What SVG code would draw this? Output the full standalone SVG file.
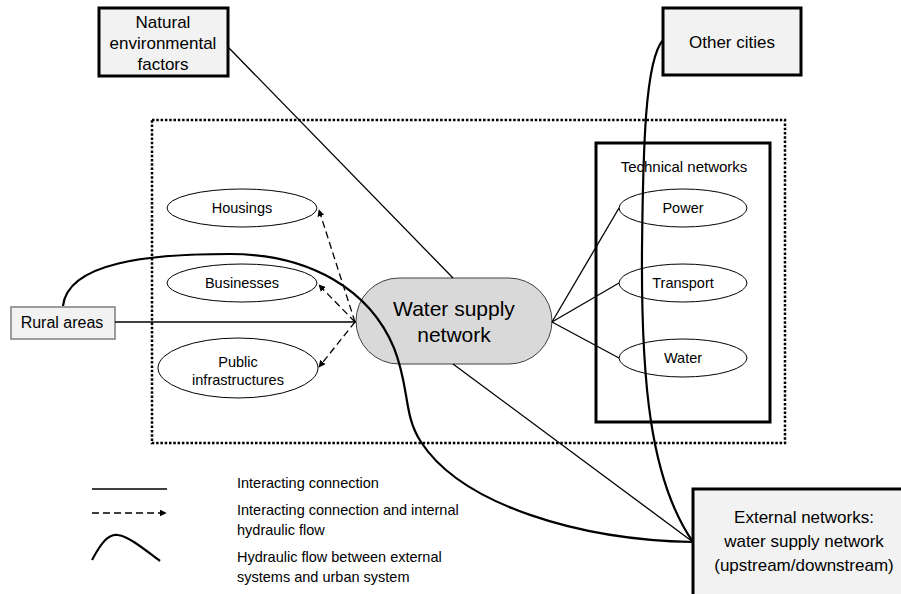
<svg xmlns="http://www.w3.org/2000/svg" width="901" height="594" viewBox="0 0 901 594">
<defs>
<style>
.t{font-family:"Liberation Sans",Arial,sans-serif;fill:#000}
.box{fill:#f2f2f2;stroke:#000;stroke-width:3}
.ell{fill:#fff;stroke:#000;stroke-width:1}
.ln{fill:none;stroke:#000;stroke-width:1.3}
.dash{fill:none;stroke:#000;stroke-width:1.3;stroke-dasharray:7 4}
.flow{fill:none;stroke:#000;stroke-width:2.2}
</style>
<marker id="ah" viewBox="0 0 10 10" refX="9" refY="5" markerWidth="7" markerHeight="7" orient="auto" markerUnits="userSpaceOnUse">
<path d="M0,0 L10,5 L0,10 z" fill="#000"/>
</marker>
</defs>
<rect width="901" height="594" fill="#fff"/>

<g id="urban-boundary">
<rect x="152" y="120" width="633" height="323" fill="none" stroke="#000" stroke-width="2.5" stroke-dasharray="2.5 1.8"/>
</g>

<g id="technical-networks">
<rect x="596" y="143" width="174" height="279" fill="none" stroke="#000" stroke-width="3"/>
<text class="t" x="684" y="172" font-size="15" text-anchor="middle">Technical networks</text>
</g>

<g id="power"><ellipse class="ell" cx="683" cy="208" rx="64" ry="19"/><text class="t" x="683" y="213" font-size="14.5" text-anchor="middle">Power</text></g>
<g id="transport"><ellipse class="ell" cx="683" cy="283" rx="64" ry="19"/><text class="t" x="683" y="288" font-size="14.5" text-anchor="middle">Transport</text></g>
<g id="water"><ellipse class="ell" cx="683" cy="358" rx="64" ry="19"/><text class="t" x="683" y="363" font-size="14.5" text-anchor="middle">Water</text></g>

<g id="housings"><ellipse class="ell" cx="242" cy="208" rx="75" ry="19"/><text class="t" x="242" y="213" font-size="14.5" text-anchor="middle">Housings</text></g>
<g id="businesses"><ellipse class="ell" cx="242" cy="283" rx="75" ry="19"/><text class="t" x="242" y="288" font-size="14.5" text-anchor="middle">Businesses</text></g>
<g id="public"><ellipse class="ell" cx="238" cy="368" rx="80" ry="30"/><text class="t" x="238" y="367" font-size="14.5" text-anchor="middle">Public</text><text class="t" x="238" y="385" font-size="14.5" text-anchor="middle">infrastructures</text></g>

<g id="water-supply-network">
<rect x="356" y="278" width="196" height="86" rx="43" ry="43" fill="#d9d9d9" stroke="#404040" stroke-width="1"/>
<text class="t" x="454" y="316" font-size="21" text-anchor="middle">Water supply</text>
<text class="t" x="454" y="342" font-size="21" text-anchor="middle">network</text>
</g>

<g id="natural-factors">
<rect class="box" x="99" y="8" width="129" height="68"/>
<text class="t" x="163" y="28" font-size="17" text-anchor="middle">Natural</text>
<text class="t" x="163" y="49" font-size="17" text-anchor="middle">environmental</text>
<text class="t" x="163" y="70" font-size="17" text-anchor="middle">factors</text>
</g>

<g id="other-cities">
<rect class="box" x="663" y="8" width="138" height="67"/>
<text class="t" x="732" y="48" font-size="17" text-anchor="middle">Other cities</text>
</g>

<g id="rural-areas">
<rect x="11" y="307" width="104" height="32" fill="#f2f2f2" stroke="#7f7f7f" stroke-width="1.5"/>
<text class="t" x="62" y="328" font-size="16" text-anchor="middle">Rural areas</text>
</g>

<g id="external-networks">
<rect class="box" x="693" y="489" width="220" height="120"/>
<text class="t" x="804" y="523" font-size="17" text-anchor="middle">External networks:</text>
<text class="t" x="804" y="547" font-size="17" text-anchor="middle">water supply network</text>
<text class="t" x="804" y="571" font-size="17" text-anchor="middle">(upstream/downstream)</text>
</g>

<g id="connectors">
<line class="ln" x1="228" y1="47" x2="453" y2="278"/>
<line class="ln" x1="453" y1="364" x2="693" y2="542"/>
<line class="ln" x1="115" y1="322" x2="356" y2="322"/>
<line class="ln" x1="552" y1="322" x2="619" y2="208"/>
<line class="ln" x1="552" y1="322" x2="619" y2="283"/>
<line class="ln" x1="552" y1="322" x2="619" y2="358"/>
<line class="dash" x1="355" y1="322" x2="319" y2="210" marker-end="url(#ah)"/>
<line class="dash" x1="355" y1="322" x2="319" y2="285" marker-end="url(#ah)"/>
<line class="dash" x1="355" y1="322" x2="319" y2="367" marker-end="url(#ah)"/>
<path class="flow" d="M63,306 C68,262 150,254 230,254 C310,254 370,290 394,348 C410,388 403,415 421,442 C462,505 580,540 693,542"/>
<path class="flow" d="M663,40 C645,60 643,150 642,250 C641,380 650,480 693,542"/>
</g>

<g id="legend">
<line class="ln" x1="92" y1="489" x2="167" y2="489"/>
<line class="dash" x1="92" y1="513" x2="166" y2="513" marker-end="url(#ah)"/>
<path class="flow" d="M92,560 C100,545 108,533 118,535 C130,537 145,550 160,561"/>
<text class="t" x="237" y="488" font-size="14.5">Interacting connection</text>
<text class="t" x="237" y="515" font-size="14.5">Interacting connection and internal</text>
<text class="t" x="237" y="535" font-size="14.5">hydraulic flow</text>
<text class="t" x="237" y="562" font-size="14.5">Hydraulic flow between external</text>
<text class="t" x="237" y="582" font-size="14.5">systems and urban system</text>
</g>
</svg>
